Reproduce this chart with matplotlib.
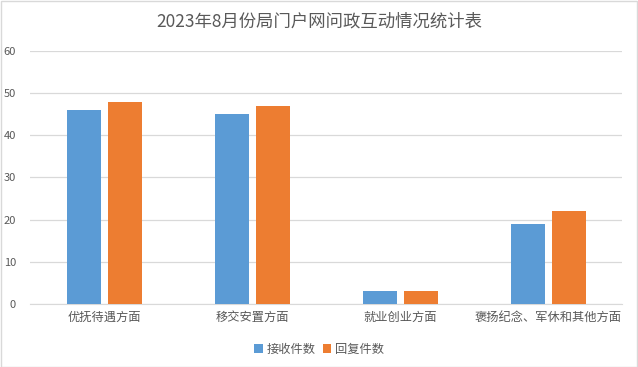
import matplotlib
matplotlib.use("Agg")
import matplotlib.pyplot as plt
import numpy as np
from matplotlib.patches import Rectangle

plt.rcParams['font.family'] = ['Noto Sans CJK SC', 'DejaVu Sans']

categories = ["优抚待遇方面", "移交安置方面", "就业创业方面", "褒扬纪念、军休和其他方面"]
received = [46, 45, 3, 19]
replied = [48, 47, 3, 22]
series_names = ["接收件数", "回复件数"]

fig = plt.figure(figsize=(6.38, 3.67), dpi=100)
ax = fig.add_axes([0.047, 0.172, 0.928, 0.689])

x = np.arange(len(categories))
w = 0.23
ax.bar(x - 0.135, received, w, color="#5B9BD5", label=series_names[0], zorder=3)
ax.bar(x + 0.14, replied, w, color="#ED7D31", label=series_names[1], zorder=3)

ax.set_xlim(-0.5, len(categories) - 0.5)
ax.set_ylim(0, 60)
ax.set_yticks(range(0, 61, 10))
ax.grid(axis="y", color="#d9d9d9", linewidth=0.9, zorder=0)
for s in ["top", "right", "left"]:
    ax.spines[s].set_visible(False)
ax.spines["bottom"].set_color("#d9d9d9")
ax.tick_params(axis="both", length=0, colors="#595959", labelsize=8)
ax.tick_params(axis="y", pad=10)
ax.tick_params(axis="x", pad=5)
ax.set_xticks(x)
ax.set_xticklabels(categories, fontsize=8.8, color="#595959")

fig.suptitle("2023年8月份局门户网问政互动情况统计表", y=0.965, fontsize=12.5, color="#595959")

fig.legend(loc="lower center", bbox_to_anchor=(0.5, 0.0), ncol=2, frameon=False,
           fontsize=8.8, labelcolor="#595959", handlelength=0.7, handleheight=0.7,
           columnspacing=0.6, handletextpad=0.3)

fig.patches.append(Rectangle((0.001, 0.001), 0.997, 0.996, transform=fig.transFigure,
                             fill=False, edgecolor="#d9d9d9", linewidth=1))

fig.savefig("out.png", dpi=100)
